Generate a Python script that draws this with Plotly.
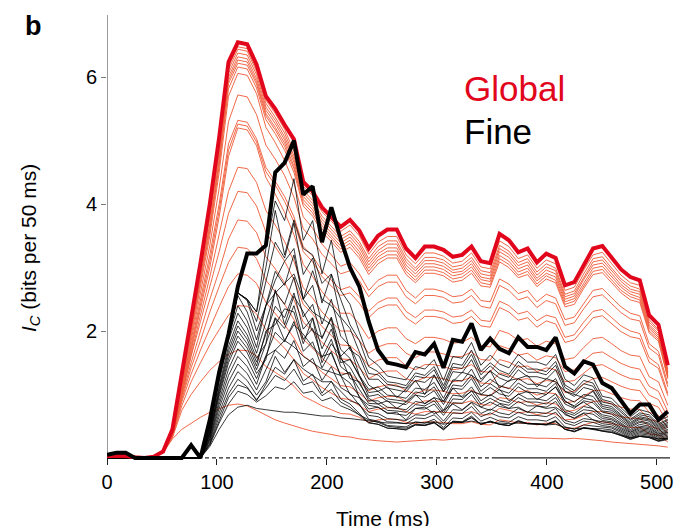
import plotly.graph_objects as go

# Sample times (ms), one value every 8.5 ms
TIME_MS = [0, 8.5, 17, 25.5, 34, 42.5, 51, 59.5, 68, 76.5, 85, 93.5, 102, 110.5, 119,
           127.5, 136, 144.5, 153, 161.5, 170, 178.5, 187, 195.5, 204, 212.5, 221, 229.5,
           238, 246.5, 255, 263.5, 272, 280.5, 289, 297.5, 306, 314.5, 323, 331.5, 340,
           348.5, 357, 365.5, 374, 382.5, 391, 399.5, 408, 416.5, 425, 433.5, 442, 450.5,
           459, 467.5, 476, 484.5, 493, 501.5, 510]

# Global information, full population (bold red)
GLOBAL_ALL = [0.03, 0.03, 0.03, 0.01, 0.0, 0.02, 0.1, 0.45, 1.3, 2.2, 3.07, 4.0, 5.05, 6.24,
              6.55, 6.52, 6.2, 5.7, 5.5, 5.25, 5.02, 4.35, 4.2, 3.95, 3.8, 3.64, 3.75, 3.58,
              3.3, 3.5, 3.6, 3.6, 3.3, 3.15, 3.33, 3.33, 3.28, 3.17, 3.2, 3.33, 3.1, 3.07,
              3.53, 3.43, 3.24, 3.3, 3.08, 3.22, 3.15, 2.72, 2.77, 3.05, 3.3, 3.34, 3.15,
              2.97, 2.85, 2.8, 2.25, 2.1, 1.46]

# Fine information, full population (bold black)
FINE_ALL = [0.05, 0.08, 0.08, 0.0, 0.0, 0.0, 0.0, 0.0, 0.0, 0.2, 0.0, 0.6, 1.35, 1.95, 2.7,
            3.22, 3.22, 3.35, 4.5, 4.65, 5.0, 4.15, 4.28, 3.4, 3.95, 3.45, 3.0, 2.7, 2.15,
            1.7, 1.5, 1.47, 1.43, 1.67, 1.63, 1.8, 1.42, 1.86, 1.83, 2.12, 1.7, 1.88, 1.72,
            1.65, 1.9, 1.75, 1.75, 1.7, 1.9, 1.44, 1.33, 1.52, 1.47, 1.18, 1.1, 0.9, 0.7,
            0.84, 0.84, 0.6, 0.73]

# Global information for smaller sub-populations (thin red)
GLOBAL_SUBSETS = [
    [0.02, 0.02, 0.02, 0.01, 0, 0.02, 0.1, 0.45, 1.28, 2.17, 3.03, 3.96, 5.0, 6.17, 6.48, 6.45, 6.13,
     5.64, 5.43, 5.18, 4.83, 4.28, 4.13, 3.88, 3.73, 3.57, 3.67, 3.5, 3.21,
     3.4, 3.49, 3.49, 3.2, 3.06, 3.23, 3.23, 3.18, 3.07, 3.1, 3.23, 3.01, 2.98, 3.42, 3.33, 3.14,
     3.2, 2.99, 3.12, 3.06, 2.64, 2.69, 2.96, 3.2, 3.24, 3.06, 2.88, 2.76, 2.72, 2.18, 2.02, 1.4],
    [0.02, 0.02, 0.02, 0.01, 0, 0.02, 0.09, 0.44, 1.26, 2.14, 3.0, 3.92, 4.96, 6.12, 6.44, 6.41, 6.09,
     5.59, 5.37, 5.12, 4.76, 4.22, 4.06, 3.81, 3.65, 3.49, 3.58, 3.41, 3.14,
     3.33, 3.42, 3.42, 3.14, 2.99, 3.16, 3.16, 3.12, 3.01, 3.04, 3.16, 2.95, 2.92, 3.35, 3.26, 3.08,
     3.14, 2.93, 3.06, 2.99, 2.58, 2.63, 2.9, 3.14, 3.17, 2.99, 2.82, 2.71, 2.66, 2.14, 2.0, 1.36],
    [0.02, 0.02, 0.02, 0.01, 0, 0.02, 0.09, 0.44, 1.25, 2.1, 2.95, 3.85, 4.88, 6.06, 6.38, 6.35, 6.04,
     5.53, 5.32, 5.06, 4.71, 4.17, 4.01, 3.76, 3.6, 3.44, 3.53, 3.36, 3.09,
     3.27, 3.37, 3.37, 3.09, 2.95, 3.11, 3.11, 3.07, 2.96, 2.99, 3.11, 2.9, 2.87, 3.3, 3.21, 3.03,
     3.09, 2.88, 3.01, 2.95, 2.54, 2.59, 2.85, 3.09, 3.12, 2.95, 2.78, 2.66, 2.62, 2.1, 1.96, 1.34],
    [0.02, 0.02, 0.02, 0.01, 0, 0.02, 0.09, 0.43, 1.23, 2.07, 2.9, 3.78, 4.8, 6.0, 6.32, 6.29, 5.98,
     5.48, 5.27, 5.01, 4.66, 4.12, 3.96, 3.71, 3.55, 3.39, 3.48, 3.31, 3.04,
     3.22, 3.31, 3.31, 3.04, 2.9, 3.06, 3.06, 3.02, 2.92, 2.94, 3.06, 2.85, 2.82, 3.25, 3.16, 2.98,
     3.04, 2.83, 2.96, 2.9, 2.5, 2.55, 2.81, 3.04, 3.07, 2.9, 2.73, 2.62, 2.58, 2.07, 1.93, 1.31],
    [0.02, 0.02, 0.02, 0.01, 0, 0.02, 0.09, 0.42, 1.2, 2.03, 2.85, 3.7, 4.72, 5.95, 6.27, 6.24, 5.93,
     5.43, 5.21, 4.96, 4.6, 4.07, 3.91, 3.66, 3.5, 3.34, 3.43, 3.25, 2.99,
     3.17, 3.26, 3.26, 2.99, 2.85, 3.01, 3.01, 2.97, 2.87, 2.9, 3.01, 2.81, 2.78, 3.19, 3.1, 2.93,
     2.99, 2.79, 2.91, 2.85, 2.46, 2.51, 2.76, 2.99, 3.02, 2.85, 2.69, 2.58, 2.53, 2.04, 1.9, 1.29],
    [0.02, 0.02, 0.02, 0.01, 0, 0.02, 0.09, 0.42, 1.18, 2.0, 2.8, 3.65, 4.66, 5.9, 6.22, 6.19, 5.89,
     5.39, 5.17, 4.91, 4.56, 4.02, 3.86, 3.61, 3.46, 3.29, 3.38, 3.2, 2.94,
     3.12, 3.2, 3.2, 2.94, 2.8, 2.96, 2.96, 2.92, 2.82, 2.85, 2.96, 2.76, 2.73, 3.14, 3.05, 2.88,
     2.94, 2.74, 2.87, 2.8, 2.42, 2.47, 2.71, 2.94, 2.97, 2.8, 2.64, 2.54, 2.49, 2.0, 1.87, 1.27],
    [0.02, 0.02, 0.02, 0.01, 0, 0.02, 0.09, 0.41, 1.16, 1.96, 2.75, 3.58, 4.6, 5.82, 6.16, 6.13, 5.83,
     5.33, 5.11, 4.85, 4.5, 3.97, 3.81, 3.56, 3.41, 3.24, 3.32, 3.15, 2.89,
     3.06, 3.15, 3.15, 2.89, 2.76, 2.91, 2.91, 2.87, 2.77, 2.8, 2.91, 2.71, 2.69, 3.09, 3.0, 2.84,
     2.89, 2.7, 2.82, 2.76, 2.38, 2.42, 2.67, 2.89, 2.92, 2.76, 2.6, 2.49, 2.45, 1.97, 1.84, 1.25],
    [0.02, 0.02, 0.02, 0.01, 0, 0.02, 0.09, 0.4, 1.12, 1.9, 2.7, 3.5, 4.5, 5.7, 6.06, 6.03, 5.74,
     5.21, 4.97, 4.69, 4.33, 3.8, 3.62, 3.37, 3.2, 3.02, 3.08, 2.9, 2.64,
     2.8, 2.88, 2.88, 2.64, 2.52, 2.66, 2.66, 2.62, 2.54, 2.56, 2.66, 2.48, 2.46, 2.82, 2.74, 2.59,
     2.64, 2.46, 2.58, 2.52, 2.18, 2.22, 2.44, 2.64, 2.67, 2.52, 2.38, 2.28, 2.24, 1.8, 1.68, 1.17],
    [0.02, 0.02, 0.02, 0.01, 0, 0.02, 0.09, 0.4, 1.1, 1.85, 2.6, 3.35, 4.25, 5.3, 5.72, 5.69, 5.41,
     4.93, 4.71, 4.45, 4.11, 3.61, 3.45, 3.21, 3.06, 2.9, 2.95, 2.79, 2.54,
     2.7, 2.77, 2.77, 2.54, 2.43, 2.56, 2.56, 2.53, 2.44, 2.46, 2.56, 2.39, 2.36, 2.72, 2.64, 2.49,
     2.54, 2.37, 2.48, 2.43, 2.09, 2.13, 2.35, 2.54, 2.57, 2.43, 2.29, 2.19, 2.16, 1.73, 1.62, 1.12],
    [0.02, 0.02, 0.02, 0.01, 0, 0.02, 0.09, 0.4, 1.08, 1.8, 2.5, 3.2, 4.0, 4.95, 5.32, 5.29, 5.03,
     4.58, 4.36, 4.12, 3.8, 3.33, 3.18, 2.95, 2.8, 2.65, 2.7, 2.54, 2.31,
     2.45, 2.52, 2.52, 2.31, 2.21, 2.33, 2.33, 2.3, 2.22, 2.24, 2.33, 2.17, 2.15, 2.47, 2.4, 2.27,
     2.31, 2.16, 2.25, 2.21, 1.9, 1.94, 2.14, 2.31, 2.34, 2.21, 2.08, 2.0, 1.96, 1.58, 1.47, 1.02],
    [0.02, 0.02, 0.02, 0.01, 0, 0.02, 0.09, 0.38, 1.05, 1.75, 2.42, 3.1, 3.9, 4.85, 5.26, 5.23, 4.98,
     4.51, 4.3, 4.04, 3.72, 3.25, 3.09, 2.86, 2.71, 2.56, 2.6, 2.44, 2.21,
     2.35, 2.41, 2.41, 2.21, 2.11, 2.23, 2.23, 2.2, 2.12, 2.14, 2.23, 2.08, 2.06, 2.37, 2.3, 2.17,
     2.21, 2.06, 2.16, 2.11, 1.82, 1.86, 2.04, 2.21, 2.24, 2.11, 1.99, 1.91, 1.88, 1.51, 1.41, 0.98],
    [0.02, 0.02, 0.02, 0.01, 0, 0.02, 0.09, 0.38, 1.02, 1.7, 2.35, 3.0, 3.8, 4.75, 5.2, 5.17, 4.92,
     4.42, 4.16, 3.87, 3.52, 3.05, 2.86, 2.62, 2.45, 2.28, 2.28, 2.11, 1.88,
     2.0, 2.05, 2.05, 1.88, 1.8, 1.9, 1.9, 1.87, 1.81, 1.82, 1.9, 1.77, 1.75, 2.01, 1.96, 1.85,
     1.88, 1.76, 1.84, 1.8, 1.55, 1.58, 1.74, 1.88, 1.9, 1.8, 1.69, 1.62, 1.6, 1.28, 1.2, 0.83],
    [0.02, 0.02, 0.02, 0.01, 0, 0.02, 0.09, 0.38, 1.0, 1.65, 2.25, 2.85, 3.5, 4.2, 4.58, 4.56, 4.34,
     3.9, 3.67, 3.41, 3.1, 2.68, 2.52, 2.3, 2.15, 2.0, 2.0, 1.85, 1.65,
     1.75, 1.8, 1.8, 1.65, 1.58, 1.67, 1.67, 1.64, 1.59, 1.6, 1.67, 1.55, 1.54, 1.77, 1.72, 1.62,
     1.65, 1.54, 1.61, 1.58, 1.36, 1.39, 1.53, 1.65, 1.67, 1.58, 1.49, 1.43, 1.4, 1.13, 1.05, 0.73],
    [0.02, 0.02, 0.02, 0.01, 0, 0.02, 0.09, 0.37, 0.98, 1.6, 2.15, 2.7, 3.25, 3.85, 4.2, 4.18, 3.97,
     3.56, 3.34, 3.1, 2.81, 2.42, 2.27, 2.07, 1.93, 1.78, 1.77, 1.64, 1.45,
     1.54, 1.58, 1.58, 1.45, 1.39, 1.47, 1.47, 1.44, 1.39, 1.41, 1.47, 1.36, 1.35, 1.55, 1.51, 1.43,
     1.45, 1.36, 1.42, 1.39, 1.2, 1.22, 1.34, 1.45, 1.47, 1.39, 1.31, 1.25, 1.23, 0.99, 0.92, 0.64],
    [0.02, 0.02, 0.02, 0.01, 0, 0.02, 0.09, 0.36, 0.95, 1.5, 2.0, 2.5, 2.95, 3.45, 3.75, 3.73, 3.55,
     3.17, 2.98, 2.76, 2.49, 2.14, 2.0, 1.82, 1.69, 1.56, 1.55, 1.42, 1.25,
     1.33, 1.37, 1.37, 1.25, 1.2, 1.27, 1.27, 1.25, 1.2, 1.22, 1.27, 1.18, 1.17, 1.34, 1.3, 1.23,
     1.25, 1.17, 1.22, 1.2, 1.03, 1.05, 1.16, 1.25, 1.27, 1.2, 1.13, 1.08, 1.06, 0.86, 0.8, 0.55],
    [0.02, 0.02, 0.02, 0.01, 0, 0.02, 0.09, 0.35, 0.92, 1.42, 1.85, 2.3, 2.7, 3.08, 3.32, 3.3, 3.14,
     2.8, 2.62, 2.42, 2.18, 1.87, 1.73, 1.57, 1.45, 1.34, 1.32, 1.2, 1.06,
     1.12, 1.15, 1.15, 1.06, 1.01, 1.07, 1.07, 1.05, 1.01, 1.02, 1.07, 0.99, 0.98, 1.13, 1.1, 1.04,
     1.06, 0.99, 1.03, 1.01, 0.87, 0.89, 0.98, 1.06, 1.07, 1.01, 0.95, 0.91, 0.9, 0.72, 0.67, 0.47],
    [0.02, 0.02, 0.02, 0.01, 0, 0.02, 0.09, 0.34, 0.88, 1.32, 1.7, 2.05, 2.38, 2.7, 2.9, 2.88, 2.75,
     2.45, 2.28, 2.1, 1.89, 1.61, 1.5, 1.35, 1.25, 1.14, 1.12, 1.02, 0.89,
     0.95, 0.97, 0.97, 0.89, 0.85, 0.9, 0.9, 0.89, 0.86, 0.86, 0.9, 0.84, 0.83, 0.95, 0.93, 0.87,
     0.89, 0.83, 0.87, 0.85, 0.73, 0.75, 0.82, 0.89, 0.9, 0.85, 0.8, 0.77, 0.76, 0.61, 0.57, 0.39],
    [0.02, 0.02, 0.02, 0.01, 0, 0.02, 0.09, 0.33, 0.82, 1.2, 1.5, 1.78, 2.02, 2.25, 2.4, 2.39, 2.27,
     2.02, 1.88, 1.73, 1.55, 1.33, 1.23, 1.11, 1.02, 0.94, 0.92, 0.83, 0.73,
     0.77, 0.79, 0.79, 0.73, 0.69, 0.73, 0.73, 0.72, 0.7, 0.7, 0.73, 0.68, 0.68, 0.78, 0.75, 0.71,
     0.73, 0.68, 0.71, 0.69, 0.6, 0.61, 0.67, 0.73, 0.73, 0.69, 0.65, 0.63, 0.62, 0.5, 0.46, 0.32],
    [0.02, 0.02, 0.02, 0.01, 0, 0.02, 0.09, 0.32, 0.75, 1.0, 1.2, 1.38, 1.52, 1.63, 1.7, 1.69, 1.61,
     1.44, 1.35, 1.25, 1.13, 0.97, 0.9, 0.82, 0.76, 0.7, 0.69, 0.64, 0.56,
     0.6, 0.61, 0.61, 0.56, 0.54, 0.57, 0.57, 0.56, 0.54, 0.54, 0.57, 0.53, 0.52, 0.6, 0.58, 0.55,
     0.56, 0.52, 0.55, 0.54, 0.46, 0.47, 0.52, 0.56, 0.57, 0.54, 0.5, 0.48, 0.48, 0.38, 0.36, 0.25],
    [0.01, 0.01, 0.01, 0.01, 0.01, 0.02, 0.08, 0.3, 0.45, 0.55, 0.64, 0.72, 0.78, 0.83, 0.85, 0.82, 0.75,
     0.67, 0.6, 0.55, 0.5, 0.46, 0.42, 0.4, 0.37, 0.34, 0.33, 0.3, 0.28,
     0.27, 0.26, 0.25, 0.26, 0.27, 0.28, 0.29, 0.28, 0.3, 0.31, 0.31, 0.33, 0.34, 0.34, 0.33, 0.32,
     0.32, 0.31, 0.31, 0.3, 0.3, 0.31, 0.3, 0.28, 0.27, 0.25, 0.24, 0.22, 0.21, 0.2, 0.19, 0.17],
]

# Fine information before response onset (first 11 samples) is zero for every subset
PRE_ONSET = [0, 0, 0, 0, 0, 0, 0, 0, 0, 0, 0]

# Fine information for smaller sub-populations (thin black), from onset on
FINE_SUBSETS = [
    [0.55, 1.3, 1.9, 2.6, 2.5, 2.3, 3.3, 4.05, 3.74, 4.4, 3.43, 3.74, 2.9, 3.43, 2.64, 2.42, 1.98, 1.58,
     1.46, 1.29, 1.26, 1.23, 1.44, 1.4, 1.55, 1.22, 1.6, 1.57, 1.82, 1.46, 1.62, 1.48, 1.42, 1.63,
     1.51, 1.51, 1.46, 1.63, 1.24, 1.14, 1.31, 1.26, 0.97, 0.94, 0.79, 0.65, 0.76, 0.72, 0.58, 0.65],
    [0.55, 1.3, 1.9, 2.6, 2.5, 2.3, 3.0, 3.9, 3.2, 3.75, 3.3, 3.2, 2.75, 2.9, 2.5, 2.1, 1.85, 1.44,
     1.36, 1.2, 1.18, 1.14, 1.34, 1.3, 1.44, 1.14, 1.49, 1.46, 1.7, 1.36, 1.5, 1.38, 1.32, 1.52,
     1.4, 1.4, 1.36, 1.52, 1.15, 1.06, 1.22, 1.18, 0.92, 0.88, 0.75, 0.61, 0.71, 0.68, 0.54, 0.61],
    [0.55, 1.3, 1.9, 2.6, 2.5, 2.15, 2.78, 3.4, 3.15, 3.7, 2.89, 3.15, 2.44, 2.89, 2.22, 2.04, 1.67, 1.33,
     1.31, 1.16, 1.13, 1.1, 1.29, 1.26, 1.39, 1.09, 1.43, 1.41, 1.63, 1.31, 1.45, 1.32, 1.27, 1.46,
     1.35, 1.35, 1.31, 1.46, 1.11, 1.02, 1.17, 1.13, 0.88, 0.85, 0.72, 0.59, 0.68, 0.65, 0.52, 0.59],
    [0.52, 1.3, 1.9, 2.6, 2.48, 2.0, 2.4, 2.8, 3.1, 3.3, 2.5, 2.95, 2.5, 2.4, 2.2, 1.7, 1.6, 1.24,
     1.24, 1.1, 1.07, 1.04, 1.22, 1.19, 1.31, 1.04, 1.36, 1.34, 1.55, 1.24, 1.37, 1.26, 1.2, 1.39,
     1.28, 1.28, 1.24, 1.39, 1.05, 0.97, 1.11, 1.07, 0.84, 0.81, 0.68, 0.56, 0.65, 0.62, 0.5, 0.56],
    [0.48, 1.3, 1.9, 2.56, 2.3, 1.86, 2.4, 2.94, 2.72, 3.2, 2.5, 2.72, 2.11, 2.5, 1.92, 1.76, 1.44, 1.15,
     1.05, 1.12, 0.95, 1.08, 1.22, 1.0, 1.3, 1.05, 1.2, 1.35, 1.3, 1.2, 1.38, 1.1, 1.22, 1.25,
     1.3, 1.12, 1.25, 1.2, 1.05, 1.0, 0.95, 1.05, 0.81, 0.78, 0.66, 0.54, 0.63, 0.6, 0.48, 0.54],
    [0.45, 1.26, 1.9, 2.4, 2.16, 1.74, 2.4, 2.6, 2.75, 2.9, 2.5, 2.3, 2.2, 2.1, 1.6, 1.75, 1.3, 1.08,
     1.12, 0.99, 0.97, 0.94, 1.1, 1.08, 1.19, 0.94, 1.23, 1.21, 1.4, 1.12, 1.24, 1.14, 1.09, 1.25,
     1.16, 1.16, 1.12, 1.25, 0.95, 0.88, 1.0, 0.97, 0.78, 0.75, 0.64, 0.52, 0.61, 0.58, 0.46, 0.52],
    [0.43, 1.2, 1.85, 2.28, 2.05, 1.65, 2.14, 2.62, 2.42, 2.85, 2.22, 2.42, 1.88, 2.22, 1.71, 1.57, 1.28, 1.03,
     1.05, 0.93, 0.91, 0.89, 1.04, 1.01, 1.12, 0.88, 1.15, 1.13, 1.31, 1.05, 1.17, 1.07, 1.02, 1.18,
     1.09, 1.09, 1.05, 1.18, 0.89, 0.82, 0.94, 0.91, 0.74, 0.72, 0.61, 0.5, 0.58, 0.55, 0.44, 0.5],
    [0.41, 1.13, 1.76, 2.16, 1.94, 1.57, 1.8, 2.65, 2.1, 2.55, 2.3, 2.0, 1.9, 2.2, 1.5, 1.55, 1.3, 0.97,
     1.0, 0.89, 0.87, 0.84, 0.99, 0.96, 1.06, 0.84, 1.1, 1.08, 1.25, 1.0, 1.11, 1.01, 0.97, 1.12,
     1.03, 1.03, 1.0, 1.12, 0.85, 0.78, 0.9, 0.87, 0.72, 0.69, 0.58, 0.48, 0.56, 0.53, 0.42, 0.48],
    [0.39, 1.09, 1.69, 2.08, 1.87, 1.51, 1.95, 2.39, 2.21, 2.6, 2.03, 2.21, 1.72, 2.03, 1.56, 1.43, 1.17, 0.94,
     0.85, 0.9, 0.78, 0.88, 1.0, 0.85, 0.95, 0.9, 1.1, 0.95, 1.05, 1.0, 0.98, 1.08, 0.9, 1.0,
     1.05, 0.92, 1.0, 1.12, 0.9, 0.8, 0.88, 0.78, 0.68, 0.65, 0.55, 0.45, 0.53, 0.5, 0.4, 0.45],
    [0.38, 1.05, 1.63, 2.0, 1.8, 1.45, 2.0, 2.1, 2.35, 2.3, 1.8, 2.2, 1.5, 1.8, 1.6, 1.25, 1.2, 0.9,
     0.9, 0.8, 0.78, 0.76, 0.89, 0.86, 0.95, 0.75, 0.99, 0.97, 1.12, 0.9, 1.0, 0.91, 0.87, 1.01,
     0.93, 0.93, 0.9, 1.01, 0.76, 0.7, 0.81, 0.78, 0.65, 0.62, 0.53, 0.43, 0.5, 0.48, 0.38, 0.43],
    [0.36, 1.01, 1.56, 1.92, 1.73, 1.39, 1.8, 2.21, 2.04, 2.4, 1.87, 2.04, 1.58, 1.87, 1.44, 1.32, 1.08, 0.86,
     0.85, 0.75, 0.74, 0.72, 0.84, 0.82, 0.9, 0.71, 0.93, 0.92, 1.06, 0.85, 0.94, 0.86, 0.83, 0.95,
     0.88, 0.88, 0.85, 0.95, 0.72, 0.67, 0.76, 0.74, 0.62, 0.6, 0.51, 0.41, 0.48, 0.46, 0.37, 0.41],
    [0.35, 0.97, 1.5, 1.84, 1.66, 1.33, 1.55, 2.2, 1.85, 2.1, 1.95, 1.75, 1.6, 1.65, 1.3, 1.35, 0.95, 0.83,
     0.8, 0.71, 0.69, 0.67, 0.78, 0.77, 0.85, 0.67, 0.87, 0.86, 1.0, 0.8, 0.88, 0.81, 0.78, 0.89,
     0.82, 0.82, 0.8, 0.89, 0.68, 0.63, 0.71, 0.69, 0.59, 0.57, 0.48, 0.4, 0.46, 0.44, 0.35, 0.4],
    [0.32, 0.9, 1.4, 1.72, 1.55, 1.25, 1.61, 1.98, 1.83, 2.15, 1.68, 1.83, 1.42, 1.68, 1.29, 1.18, 0.97, 0.77,
     0.8, 0.7, 0.72, 0.6, 0.78, 0.8, 0.7, 0.75, 0.85, 0.76, 0.88, 0.8, 0.75, 0.85, 0.78, 0.8,
     0.72, 0.82, 0.78, 0.8, 0.7, 0.62, 0.7, 0.6, 0.57, 0.55, 0.46, 0.38, 0.44, 0.42, 0.34, 0.38],
    [0.3, 0.84, 1.3, 1.6, 1.44, 1.16, 1.6, 1.7, 1.85, 1.75, 1.6, 1.5, 1.4, 1.35, 1.3, 1.0, 0.95, 0.72,
     0.7, 0.62, 0.6, 0.59, 0.68, 0.67, 0.74, 0.58, 0.76, 0.75, 0.87, 0.7, 0.77, 0.71, 0.68, 0.78,
     0.72, 0.72, 0.7, 0.78, 0.59, 0.55, 0.62, 0.6, 0.54, 0.52, 0.44, 0.36, 0.42, 0.4, 0.32, 0.36],
    [0.28, 0.78, 1.2, 1.48, 1.33, 1.07, 1.39, 1.7, 1.57, 1.85, 1.44, 1.57, 1.22, 1.44, 1.11, 1.02, 0.83, 0.67,
     0.65, 0.57, 0.56, 0.54, 0.63, 0.62, 0.68, 0.54, 0.71, 0.7, 0.81, 0.65, 0.71, 0.65, 0.63, 0.72,
     0.67, 0.67, 0.65, 0.72, 0.55, 0.51, 0.58, 0.56, 0.51, 0.49, 0.42, 0.34, 0.4, 0.38, 0.3, 0.34],
    [0.26, 0.71, 1.1, 1.36, 1.22, 0.99, 1.2, 1.6, 1.35, 1.55, 1.4, 1.3, 1.2, 1.2, 1.05, 0.9, 0.85, 0.61,
     0.58, 0.51, 0.5, 0.49, 0.57, 0.55, 0.61, 0.48, 0.63, 0.62, 0.72, 0.58, 0.64, 0.58, 0.56, 0.65,
     0.6, 0.6, 0.58, 0.65, 0.49, 0.45, 0.52, 0.5, 0.49, 0.47, 0.4, 0.32, 0.38, 0.36, 0.29, 0.32],
    [0.23, 0.65, 1.01, 1.24, 1.12, 0.9, 1.16, 1.43, 1.32, 1.55, 1.21, 1.32, 1.02, 1.21, 0.93, 0.85, 0.7, 0.56,
     0.53, 0.47, 0.46, 0.44, 0.52, 0.51, 0.56, 0.44, 0.58, 0.57, 0.66, 0.53, 0.58, 0.53, 0.51, 0.59,
     0.54, 0.54, 0.53, 0.59, 0.45, 0.41, 0.47, 0.46, 0.46, 0.44, 0.37, 0.31, 0.36, 0.34, 0.27, 0.31],
    [0.22, 0.6, 0.95, 1.15, 1.1, 0.92, 1.1, 1.3, 1.22, 1.4, 1.15, 1.2, 0.98, 1.08, 0.88, 0.8, 0.68, 0.55,
     0.53, 0.47, 0.46, 0.45, 0.52, 0.51, 0.55, 0.45, 0.57, 0.56, 0.64, 0.53, 0.58, 0.53, 0.51, 0.58,
     0.54, 0.54, 0.53, 0.58, 0.45, 0.42, 0.48, 0.46, 0.43, 0.42, 0.35, 0.29, 0.34, 0.32, 0.26, 0.29],
    [0.2, 0.55, 0.85, 1.05, 1.0, 0.88, 0.98, 1.12, 1.08, 1.2, 1.02, 1.05, 0.9, 0.95, 0.82, 0.76, 0.68, 0.6,
     0.56, 0.5, 0.48, 0.47, 0.53, 0.52, 0.56, 0.46, 0.57, 0.56, 0.63, 0.53, 0.57, 0.53, 0.51, 0.57,
     0.54, 0.54, 0.52, 0.57, 0.45, 0.42, 0.47, 0.45, 0.42, 0.4, 0.35, 0.3, 0.34, 0.32, 0.27, 0.3],
    [0.18, 0.45, 0.68, 0.8, 0.83, 0.78, 0.76, 0.74, 0.72, 0.72, 0.7, 0.68, 0.66, 0.66, 0.63, 0.62, 0.6, 0.58,
     0.57, 0.55, 0.55, 0.54, 0.56, 0.55, 0.57, 0.53, 0.56, 0.56, 0.58, 0.55, 0.56, 0.55, 0.54, 0.55,
     0.54, 0.53, 0.52, 0.53, 0.48, 0.46, 0.47, 0.46, 0.42, 0.4, 0.36, 0.32, 0.34, 0.33, 0.3, 0.31],
]

X_TICKS = [0, 100, 200, 300, 400, 500]
Y_TICKS = [2, 4, 6]
X_MAX = 512
Y_TOP = 6.98
Y_BOTTOM = -0.08
DASHED_UNTIL = 350

FONT = "Liberation Sans, Arial, Helvetica, sans-serif"
RED_BOLD = "#e2061c"
RED_THIN = "rgba(239,92,58,0.92)"
BLACK_THIN = "rgba(0,0,0,0.78)"

for series in GLOBAL_SUBSETS + [GLOBAL_ALL, FINE_ALL]:
    if len(series) != len(TIME_MS):
        raise ValueError("series length mismatch")
for series in FINE_SUBSETS:
    if len(PRE_ONSET) + len(series) != len(TIME_MS):
        raise ValueError("fine subset length mismatch")

fig = go.Figure()

for ys in GLOBAL_SUBSETS:
    fig.add_trace(go.Scatter(x=TIME_MS, y=ys, mode="lines",
                             line=dict(color=RED_THIN, width=1),
                             hoverinfo="skip", showlegend=False))
for ys in FINE_SUBSETS:
    fig.add_trace(go.Scatter(x=TIME_MS, y=PRE_ONSET + ys, mode="lines",
                             line=dict(color=BLACK_THIN, width=1),
                             hoverinfo="skip", showlegend=False))

fig.add_trace(go.Scatter(x=TIME_MS, y=GLOBAL_ALL, mode="lines",
                         line=dict(color=RED_BOLD, width=4),
                         hoverinfo="skip", showlegend=False))
fig.add_trace(go.Scatter(x=TIME_MS, y=FINE_ALL, mode="lines",
                         line=dict(color="black", width=4),
                         hoverinfo="skip", showlegend=False))

# axis lines: vertical grey spine, horizontal baseline dashed then solid
fig.add_shape(type="line", xref="x", yref="y", x0=0, x1=0, y0=0, y1=Y_TOP,
              line=dict(color="#7a7a7a", width=1.5), layer="below")
fig.add_shape(type="line", xref="x", yref="y", x0=0, x1=DASHED_UNTIL, y0=0, y1=0,
              line=dict(color="#222222", width=1.3, dash="4px,3px"), layer="below")
fig.add_shape(type="line", xref="x", yref="y", x0=DASHED_UNTIL, x1=X_MAX, y0=0, y1=0,
              line=dict(color="#222222", width=1.4), layer="below")

fig.update_layout(
    width=693, height=526,
    margin=dict(l=107, r=23, t=15, b=63),
    paper_bgcolor="white", plot_bgcolor="white",
    font=dict(family=FONT, color="black"),
    xaxis=dict(range=[0, X_MAX], tickvals=X_TICKS, ticktext=[str(v) for v in X_TICKS],
               ticks="outside", ticklen=6, tickwidth=1.3, tickcolor="#222222",
               tickfont=dict(size=20, family=FONT, color="black"),
               showline=False, showgrid=False, zeroline=False,
               anchor="free", position=(0 - Y_BOTTOM) / (Y_TOP - Y_BOTTOM)),
    yaxis=dict(range=[Y_BOTTOM, Y_TOP], tickvals=Y_TICKS, ticktext=[str(v) for v in Y_TICKS],
               ticks="outside", ticklen=5, tickwidth=1.3, tickcolor="#7a7a7a",
               tickfont=dict(size=20, family=FONT, color="black"),
               showline=False, showgrid=False, zeroline=False),
)

annotations = [
    dict(text="<b>b</b>", x=-0.131, y=0.975, font=dict(size=27, family=FONT, color="black")),
    dict(text="Global", x=(462 - 107) / 563, y=(463 - 88) / 448, xanchor="left",
         font=dict(size=35, family=FONT, color=RED_BOLD)),
    dict(text="Fine", x=(462 - 107) / 563, y=(463 - 131) / 448, xanchor="left",
         font=dict(size=35, family=FONT, color="black")),
    dict(text="Time (ms)", x=(383 - 107) / 563, y=(463 - 518) / 448,
         font=dict(size=21, family=FONT, color="black")),
    dict(text="<i>I</i><sub><i>C</i></sub> (bits per 50 ms)", x=(30 - 107) / 563,
         y=(463 - 248) / 448, textangle=-90,
         font=dict(size=21, family=FONT, color="black")),
]
for a in annotations:
    a.setdefault("xanchor", "center")
    fig.add_annotation(xref="paper", yref="paper", yanchor="middle", showarrow=False, **a)

fig.write_html("out.html")
